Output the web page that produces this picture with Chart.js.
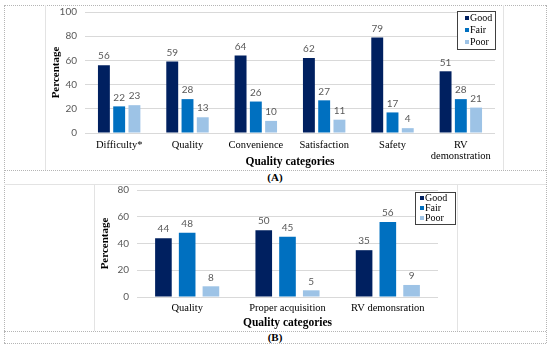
<!DOCTYPE html>
<html>
<head>
<meta charset="utf-8">
<script src="https://cdn.jsdelivr.net/npm/chart.js@4.4.1/dist/chart.umd.min.js"></script>
<style>
  body { margin: 0; background: #fff; }
  #wrap { position: relative; width: 550px; height: 348px; overflow: hidden; }
  .ln { position: absolute; }
  .dh { border-top: 1px dotted #b5b5b5; height: 0; }
  .dv { border-left: 1px dotted #b5b5b5; width: 0; }
  .sv { border-left: 1px solid #e3e3e3; width: 0; }
  .sh { border-top: 1px solid #e3e3e3; height: 0; }
  .cap { position: absolute; left: 0; width: 550px; text-align: center;
         font: bold 11px "Liberation Serif", serif; color: #000; }
  canvas { position: absolute; }
</style>
</head>
<body>
<div id="wrap">
  <!-- moldura da figura -->
  <div class="ln dh" style="left:4px;top:5px;width:542px"></div>
  <div class="ln dh" style="left:4px;top:343px;width:542px"></div>
  <div class="ln dv" style="left:4px;top:5px;height:338px"></div>
  <div class="ln dv" style="left:546px;top:5px;height:338px"></div>
  <div class="ln dh" style="left:4px;top:170px;width:542px"></div>
  <div class="ln sh" style="left:4px;top:184px;width:542px"></div>
  <div class="ln dh" style="left:4px;top:331px;width:542px"></div>
  <div class="ln sv" style="left:45px;top:5px;height:165px"></div>
  <div class="ln sv" style="left:503px;top:5px;height:165px"></div>
  <div class="ln sv" style="left:94px;top:184px;height:147px"></div>
  <div class="ln sv" style="left:457px;top:184px;height:147px"></div>
  <div class="cap" style="top:171px">(A)</div>
  <div class="cap" style="top:331px">(B)</div>

  <canvas id="graficoA" width="456" height="163" style="left:46px;top:6px"></canvas>
  <canvas id="graficoB" width="361" height="145" style="left:95px;top:185px"></canvas>
</div>

<script>
// dados do gráfico (A)
const categoriasA = ["Difficulty*", "Quality", "Convenience", "Satisfaction", "Safety", ["RV", "demonstration"]];
const goodA = [56, 59, 64, 62, 79, 51];
const fairA = [22, 28, 26, 27, 17, 28];
const poorA = [23, 13, 10, 11, 4, 21];
const ticksA = [0, 20, 40, 60, 80, 100];

// dados do gráfico (B)
const categoriasB = ["Quality", "Proper acquisition", "RV demonsration"];
const goodB = [44, 50, 35];
const fairB = [48, 45, 56];
const poorB = [8, 5, 9];
const ticksB = [0, 20, 40, 60, 80];

const series = ["Good", "Fair", "Poor"];
const cores = ["#002060", "#0070C0", "#9DC3E6"];

const serif = "'Liberation Serif', 'Times New Roman', serif";
const sans = "Lato, 'Open Sans', sans-serif";

// rótulos de valor em cima de cada barra
const rotulos = {
  id: "rotulos",
  afterDatasetsDraw(chart) {
    const ctx = chart.ctx;
    ctx.save();
    ctx.font = "10px " + sans;
    ctx.fillStyle = "#595959";
    ctx.textAlign = "center";
    ctx.textBaseline = "bottom";
    chart.data.datasets.forEach((ds, i) => {
      chart.getDatasetMeta(i).data.forEach((bar, j) => {
        ctx.fillText(ds.data[j], bar.x, bar.y - 4);
      });
    });
    ctx.restore();
  }
};

// legenda com caixa, dentro da área do gráfico
const legenda = {
  id: "legenda",
  afterDraw(chart, args, opts) {
    const ctx = chart.ctx;
    const a = chart.chartArea;
    const x = Math.round(a.right + opts.dx);
    const y = Math.round(a.top + opts.dy);
    const n = chart.data.datasets.length;
    const h = opts.row * n + 2;
    ctx.save();
    ctx.fillStyle = "#fff";
    ctx.fillRect(x, y, opts.w, h);
    ctx.strokeStyle = "#404040";
    ctx.lineWidth = 1;
    ctx.strokeRect(x + 0.5, y + 0.5, opts.w, h);
    ctx.font = "10px " + serif;
    ctx.textBaseline = "middle";
    chart.data.datasets.forEach((ds, i) => {
      const cy = y + 1 + opts.row * (i + 0.5);
      ctx.fillStyle = ds.backgroundColor;
      ctx.fillRect(x + opts.mx, cy - 2, 4, 4);
      ctx.fillStyle = "#000";
      ctx.fillText(ds.label, x + opts.mx + 5, cy + 0.5);
    });
    ctx.restore();
  }
};

function criaGrafico(id, categorias, valores, ticks, cfg) {
  return new Chart(document.getElementById(id), {
    type: "bar",
    data: {
      labels: categorias,
      datasets: valores.map((v, i) => ({
        label: series[i],
        data: v,
        backgroundColor: cores[i],
        categoryPercentage: cfg.cat,
        barPercentage: cfg.bar
      }))
    },
    options: {
      responsive: false,
      animation: false,
      devicePixelRatio: 1,
      layout: { padding: { left: 0, right: cfg.padRight, top: 0, bottom: 0 } },
      plugins: {
        legend: { display: false },
        tooltip: { enabled: false },
        legenda: cfg.legenda
      },
      scales: {
        x: {
          grid: { display: false, drawTicks: false },
          border: { display: false },
          ticks: {
            color: "#000",
            padding: cfg.tickPad,
            maxRotation: 0,
            autoSkip: false,
            font: { family: serif, size: 10.5, lineHeight: 1.1 }
          },
          title: {
            display: true,
            text: "Quality categories",
            color: "#000",
            padding: 0,
            font: { family: serif, size: 11.5, weight: "bold" }
          },
          afterFit: s => { s.height = cfg.xh; }
        },
        y: {
          min: 0,
          max: ticks[ticks.length - 1],
          afterBuildTicks: s => { s.ticks = ticks.map(v => ({ value: v })); },
          grid: { color: "#d9d9d9", drawTicks: false },
          border: { display: false },
          ticks: {
            color: "#595959",
            padding: 8,
            font: { family: sans, size: 10 }
          },
          title: {
            display: true,
            text: "Percentage",
            color: "#000",
            padding: { top: 4, bottom: 0 },
            font: { family: serif, size: 11, weight: "bold" }
          },
          afterFit: s => {
            s.width = cfg.yw;
            s.paddingTop = cfg.top;
            s.paddingBottom = 0;
          }
        }
      }
    },
    plugins: [rotulos, legenda]
  });
}

criaGrafico("graficoA", categoriasA, [goodA, fairA, poorA], ticksA, {
  cat: 0.67, bar: 0.78, padRight: 7, xh: 36, yw: 39, tickPad: 6, top: 6,
  legenda: { dx: -38, dy: -1, w: 38, row: 12, mx: 8 }
});

criaGrafico("graficoB", categoriasB, [goodB, fairB, poorB], ticksB, {
  cat: 0.71, bar: 0.7, padRight: 18, xh: 33, yw: 42, tickPad: 5, top: 5,
  legenda: { dx: -23, dy: 2, w: 40, row: 10, mx: 5 }
});
</script>
</body>
</html>
